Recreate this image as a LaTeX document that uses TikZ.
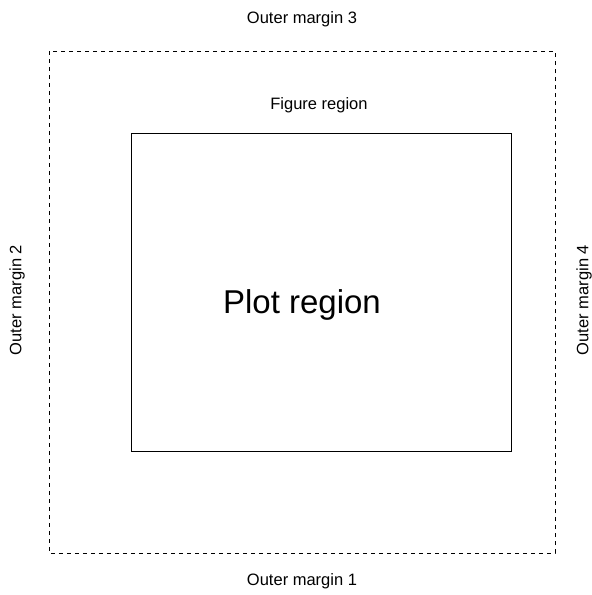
\documentclass[tikz,border=0pt]{standalone}
\usepackage{fontspec}
\setmainfont{Liberation Sans}
\usetikzlibrary{positioning}
\tikzset{
  label/.style={inner sep=0pt, font=\fontsize{16.5}{18}\selectfont},
  biglabel/.style={inner sep=0pt, font=\fontsize{33}{36}\selectfont},
  outerbox/.style={draw, line width=0.75pt, dash pattern=on 4pt off 4pt},
  plotbox/.style={draw, line width=0.75pt},
}
\begin{document}
\begin{tikzpicture}[x=1pt, y=-1pt]
  \useasboundingbox (0,0) rectangle (592,595);
  % outer (figure) region and plot region
  \draw[outerbox] (49,51) rectangle (555,553);
  \draw[plotbox] (131.5,133) rectangle (511,451);

  \node[biglabel] (plot) at (302,305) {Plot region};
  \node[label] (fig) at (319,105) {Figure region};
  \node[label] (om3) at (302,19) {Outer margin 3};
  \node[label] (om1) at (302,581) {Outer margin 1};
  \node[label, rotate=90] (om2) at (17,300) {Outer margin 2};
  \node[label, rotate=90] (om4) at (584,300) {Outer margin 4};
\end{tikzpicture}
\end{document}
